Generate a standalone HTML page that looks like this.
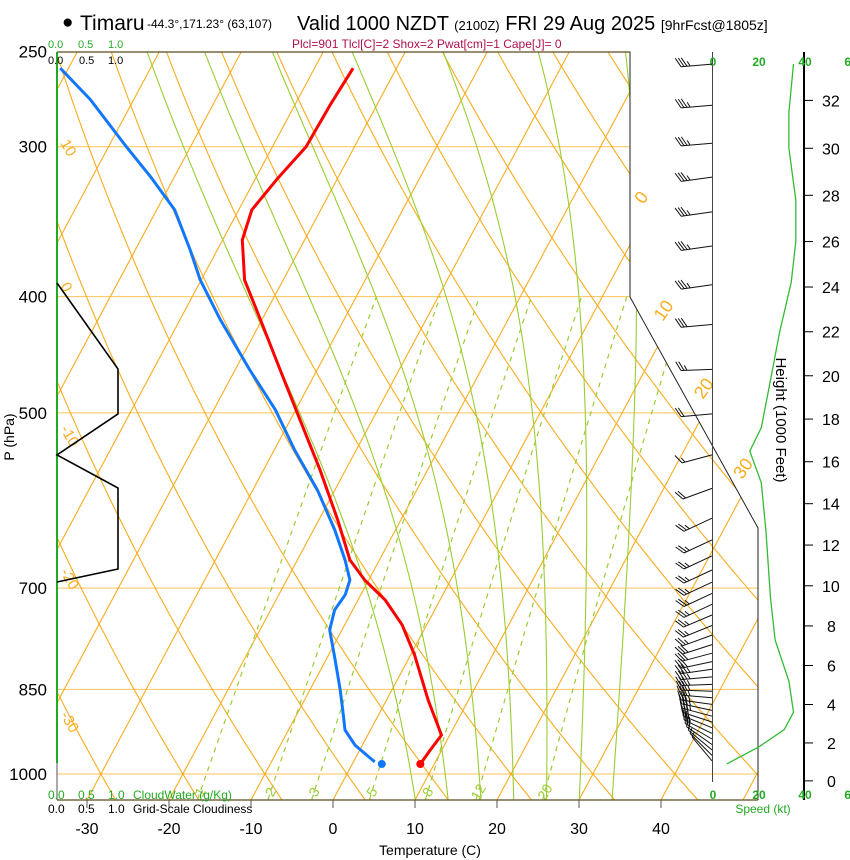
<!DOCTYPE html>
<html><head><meta charset="utf-8"><style>
html,body{margin:0;padding:0;background:#fff;}
svg{display:block;font-family:"Liberation Sans",sans-serif;}
</style></head><body>
<svg id="chart" width="850" height="860" viewBox="0 0 850 860" xmlns="http://www.w3.org/2000/svg">
<defs><clipPath id="plotclip"><polygon points="57,52 630,52 630,297 758,528 758,800 57,800"/></clipPath></defs>
<g id="bg" clip-path="url(#plotclip)"></g>
<g id="fg"></g>
<!-- header -->
<text x="62" y="28" font-size="19">●</text>
<text x="80" y="30" font-size="21">Timaru</text>
<text x="147" y="28" font-size="12">-44.3°,171.23° (63,107)</text>
<text x="297" y="30" font-size="20">Valid 1000 NZDT <tspan font-size="13">(2100Z)</tspan> FRI 29 Aug 2025 <tspan font-size="14">[9hrFcst@1805z]</tspan></text>
<text x="292" y="48" font-size="12" fill="#b0104f">Plcl=901 Tlcl[C]=2 Shox=2 Pwat[cm]=1 Cape[J]= 0</text>
<!-- cloud scales -->
<g font-size="11" fill="#22aa22"><text x="48" y="48">0.0</text><text x="78" y="48">0.5</text><text x="108" y="48">1.0</text></g>
<g font-size="11"><text x="48" y="64">0.0</text><text x="79" y="64">0.5</text><text x="108" y="64">1.0</text></g>
<g font-size="12" fill="#22aa22"><text x="48" y="799">0.0</text><text x="78" y="799">0.5</text><text x="108" y="799">1.0</text><text x="133" y="799">CloudWater (g/Kg)</text></g>
<g font-size="12"><text x="48" y="813">0.0</text><text x="78" y="813">0.5</text><text x="108" y="813">1.0</text><text x="133" y="813">Grid-Scale Cloudiness</text></g>
<text x="430" y="855" font-size="14" text-anchor="middle">Temperature (C)</text>
<text transform="translate(14,437) rotate(-90)" font-size="14" text-anchor="middle">P (hPa)</text>
<text transform="translate(776,420) rotate(90)" font-size="15" text-anchor="middle">Height (1000 Feet)</text>
<text x="763" y="813" font-size="12" fill="#22aa22" text-anchor="middle">Speed (kt)</text>
</svg>
<script>
// ---- data ----
const pLevels=[250,300,400,500,700,850,1000];
const tTicks=[-30,-20,-10,0,10,20,30,40];
const tempP=[258,277,300,318.6,338.7,358.8,387.5,418,460.5,507,558,614,663,689,716,751,796,868,928,955,981];
const tempT=[-45.3,-45.7,-45.9,-47.3,-48.4,-47.6,-44.7,-40.2,-34.5,-28.8,-23.1,-17.7,-13.6,-10.5,-6.7,-3.0,0.5,5.1,9.0,8.6,8.3];
const dewP=[258,274,299,318.6,338.7,365.8,387.5,418,460.5,497,537,580,626,663,689,709,730,758.5,803,851,884,919,946,977];
const dewT=[-81,-75.3,-68.1,-62.7,-57.8,-53.3,-50.1,-45.1,-38.2,-32.5,-27.5,-22.1,-17.4,-14.2,-12.3,-11.9,-12.2,-11.5,-8.9,-6.3,-4.7,-3.1,-0.9,2.6];
const sfcP=[981];
const sfcT=[8.3];
const sfcTd=[3.6];
const cloudP=[389.7,459.6,501,542,577.6,674.7,691.8];
const cloudC=[0,1,1,0,1,1,0];
const barbP=[256,277,298,318,340,363,391,422,460,501,542,578,612,638,658,676,692,707,722,737,752,766,780,793,806,818,830,842,853,864,875,885,895,905,915,925,935,945,955,965,975];
const barbDir=[265,265,265,262,262,262,262,265,268,265,255,250,245,245,245,245,245,245,245,247,248,250,252,255,258,262,265,268,272,275,278,282,285,288,292,296,300,305,310,315,320];
const barbSpd=[35,33,33,35,36,36,35,30,25,21,17,21,23,23,24,25,25,25,26,26,27,27,28,30,31,33,34,35,35,35,35,34,33,31,28,25,20,15,10,7,5];
const spdH=[33.5,31.5,30,27.8,26,24.2,22,19.8,17.6,16.5,15,12.7,9.4,7.3,5.2,3.6,2.7,1.8,0.9];
const spdV=[35,33,33,36,36,34,29,25,21,16,21,23,25,27,33,35,31,20,6];
const hTicks=[0,2,4,6,8,10,12,14,16,18,20,22,24,26,28,30,32];
const spdTicks=[0,20,40,60];
const mixW=[1,2,3,5,8,12,20];
const moistT0=[10,14,18,22,26,30,34];
const isoT=[-130,-120,-110,-100,-90,-80,-70,-60,-50,-40,-30,-20,-10,0,10,20,30,40,50];
const thetaC=[-40,-30,-20,-10,0,10,20,30,40,50,60,70,80,90,100,110,120,130,140,150,160,170,180,190,200];
const thetaLbl=[10,0,-10,-20,-30];
const isoLbl=[0,10,20,30];

// ---- axes ----
const yP=p=>774-521*Math.log(1000/p);
const xT=(T,p)=>333+8.2*T+0.535*(800-yP(p));
const xS=s=>713+2.3*s;
const yH=h=>yP(1013.25*Math.pow(1-6.5e-3*h*304.8/288.15,5.256));
const NS="http://www.w3.org/2000/svg";
const bg=document.getElementById('bg'), fg=document.getElementById('fg');
function mk(tag,attrs,parent){const e=document.createElementNS(NS,tag);for(const k in attrs)e.setAttribute(k,attrs[k]);(parent||fg).appendChild(e);return e;}
function pts(arr){return arr.map(a=>a[0].toFixed(1)+','+a[1].toFixed(1)).join(' ');}

pLevels.forEach(p=>{
  const l=mk('line',{x1:57,x2:758,y1:yP(p),y2:yP(p),stroke:'#fbc35a','stroke-width':1},bg);
  
  
});
isoT.forEach(T=>{
  const l=mk('line',{x1:xT(T,1060),y1:yP(1060),x2:xT(T,240),y2:yP(240),stroke:'#f9ac1e','stroke-width':1.1},bg);
  
  
});
thetaC.forEach(th=>{
  const a=[];for(let p=1060;p>=240;p-=10){const T=(th+273.15)*Math.pow(p/1000,0.2857)-273.15;a.push([xT(T,p),yP(p)]);}
  const l=mk('polyline',{points:pts(a),fill:'none',stroke:'#f9ac1e','stroke-width':1.1},bg);
  
  
});
const es=Tc=>6.112*Math.exp(17.67*Tc/(Tc+243.5));
moistT0.forEach(T0=>{
  let T=T0+273.15;const a=[];
  for(let p=1050;p>=240;p-=5){
    a.push([xT(T-273.15,p),yP(p)]);
    const e=es(T-273.15),rs=0.622*e/(p-e);
    const dTdp=(287*T+2.5e6*rs)/(p*(1005+2.5e6*2.5e6*rs*0.622/(287*T*T)));
    T-=dTdp*5;
  }
  const l=mk('polyline',{points:pts(a),fill:'none',stroke:'#9acd32','stroke-width':1.1},bg);
  
  
});
mixW.forEach(w=>{
  const a=[];for(let p=1050;p>=400;p-=10){const e=w*p/(622+w),L=Math.log(e/6.112),Td=243.5*L/(17.67-L);a.push([xT(Td,p),yP(p)]);}
  const l=mk('polyline',{points:pts(a),fill:'none',stroke:'#9acd32','stroke-width':1.2,'stroke-dasharray':'5,5'},bg);
  
  
  const e=w*1040/(622+w),L=Math.log(e/6.112),Td=243.5*L/(17.67-L);
  const t=mk('text',{transform:`translate(${xT(Td,1040)+5},${yP(1040)}) rotate(-60)`,'font-size':14,fill:'#9acd32','text-anchor':'middle'},bg);
  t.textContent=w;
  
  
});
thetaLbl.forEach((v,i)=>{
  const t=mk('text',{transform:`translate(60,${143+i*143}) rotate(60)`,'font-size':15,fill:'#f9ac1e'});
  t.textContent=v;
  
  
});
isoLbl.forEach((v,i)=>{
  const y=[205,322,400,480][i];
  const p=1000*Math.exp(-(774-y)/521);
  const t=mk('text',{transform:`translate(${xT(v,p)-8},${y}) rotate(-55)`,'font-size':18,fill:'#f9ac1e'});
  t.textContent=v;
  
  
});

const fr=mk('polyline',{points:'57,52 630,52 630,297 758,528 758,800',fill:'none',stroke:'#222','stroke-width':1});


const tl=mk('line',{x1:57,x2:630,y1:52,y2:52,stroke:'#5a4a20','stroke-width':1.3});


const bl=mk('line',{x1:57,x2:758,y1:800,y2:800,stroke:'#5a4a20','stroke-width':1.3});


const gl=mk('line',{x1:57,x2:57,y1:52,y2:763,stroke:'#22aa22','stroke-width':2});


const gl2=mk('line',{x1:57,x2:57,y1:763,y2:800,stroke:'#555','stroke-width':1});



pLevels.forEach(p=>{
  const t=mk('text',{x:47,y:yP(p)+6,'font-size':17,'text-anchor':'end'});
  t.textContent=p;
  
  
});
tTicks.forEach(T=>{
  const x=333+8.2*T;
  const k=mk('line',{x1:x,x2:x,y1:800,y2:808,stroke:'#555'});
  
  
  const t=mk('text',{x:x,y:834,'font-size':16,'text-anchor':'middle'});
  t.textContent=T;
  
  
});

const cl=mk('polyline',{points:pts(cloudP.map((p,i)=>[57+61*cloudC[i],yP(p)])),fill:'none',stroke:'#000','stroke-width':1.6});



const tl2=mk('polyline',{points:pts(tempP.map((p,i)=>[xT(tempT[i],p),yP(p)])),fill:'none',stroke:'#ff0000','stroke-width':3,'stroke-linejoin':'round'});


const dl=mk('polyline',{points:pts(dewP.map((p,i)=>[xT(dewT[i],p),yP(p)])),fill:'none',stroke:'#1177ff','stroke-width':3,'stroke-linejoin':'round'});


const sd=mk('circle',{cx:xT(sfcT[0],sfcP[0]),cy:yP(sfcP[0]),r:4,fill:'#ff0000'});


const sdd=mk('circle',{cx:xT(sfcTd[0],sfcP[0]),cy:yP(sfcP[0]),r:4,fill:'#1177ff'});



const sa=mk('line',{x1:712.5,x2:712.5,y1:52,y2:782,stroke:'#444','stroke-width':1});


const ha=mk('line',{x1:804,x2:804,y1:52,y2:800,stroke:'#000','stroke-width':2});


hTicks.forEach(h=>{
  const y=yH(h);
  const k=mk('line',{x1:804,x2:813,y1:y,y2:y,stroke:'#000'});
  
  
  const t=mk('text',{x:h<10?827:822,y:y+6,'font-size':16});
  t.textContent=h;
  
  
});
spdTicks.forEach(s=>{
  [66,799].forEach(y=>{
    const t=mk('text',{x:xS(s),y:y,'font-size':12,'font-weight':'bold',fill:'#22aa22','text-anchor':'middle'});
    t.textContent=s;
    
    
  });
});
const sl=mk('polyline',{points:pts(spdH.map((h,i)=>[xS(spdV[i]),yH(h)])),fill:'none',stroke:'#33bb33','stroke-width':1.3});



barbP.forEach((p,i)=>{
  const y=yP(p),x0=712,d=barbDir[i]*Math.PI/180;
  const ux=Math.sin(d),uy=-Math.cos(d),L=31;
  const tx=x0+ux*L,ty=y+uy*L;
  let dd=`M${x0},${y.toFixed(1)} L${tx.toFixed(1)},${ty.toFixed(1)}`;
  let s=Math.round(barbSpd[i]/5)*5,pos=0;
  const px=-uy,py=ux;
  const pxx=py>0?-px:px, pyy=py>0?-py:py;
  while(s>=10){const bx=tx-ux*pos,by=ty-uy*pos;dd+=` M${bx.toFixed(1)},${by.toFixed(1)} l${(pxx*9+ux*5).toFixed(1)},${(pyy*9+uy*5).toFixed(1)}`;s-=10;pos+=3;}
  if(s>=5){const bx=tx-ux*pos,by=ty-uy*pos;dd+=` M${bx.toFixed(1)},${by.toFixed(1)} l${(pxx*5+ux*2.5).toFixed(1)},${(pyy*5+uy*2.5).toFixed(1)}`;}
  const b=mk('path',{d:dd,fill:'none',stroke:'#111','stroke-width':1});
  
  
});
</script>
</body></html>
